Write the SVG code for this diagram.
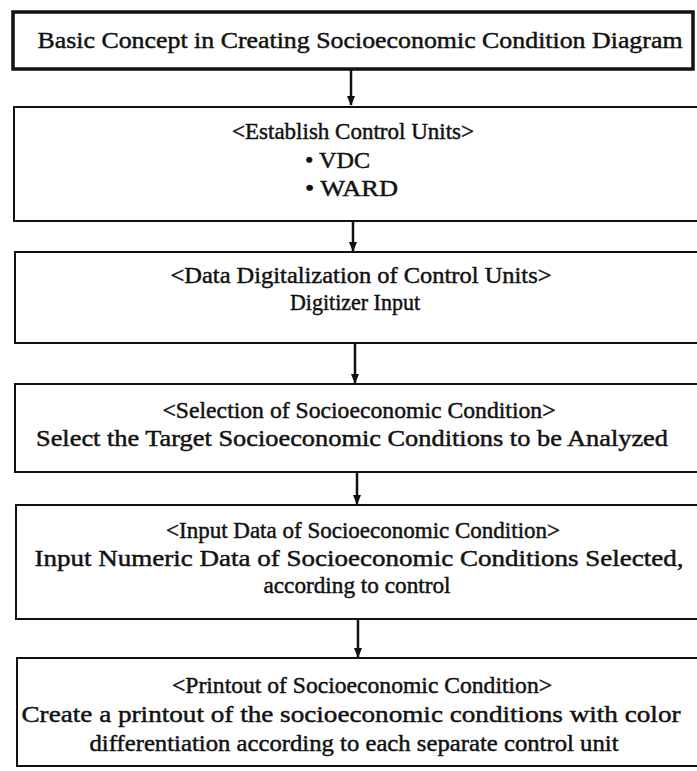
<svg xmlns="http://www.w3.org/2000/svg" width="697" height="771" viewBox="0 0 697 771">
  <style>
    .box { fill: #ffffff; stroke: #111111; stroke-width: 2; }
    .title { stroke-width: 3.5; }
    .txt { font-family: "Liberation Serif", "Times New Roman", serif; font-size: 23px; fill: #111111; stroke: #111111; stroke-width: 0.45; text-anchor: middle; }
    .left { text-anchor: start; }
    .conn { stroke: #111111; stroke-width: 2.5; fill: none; marker-end: url(#arrow); }
  </style>
  <defs>
    <marker id="arrow" viewBox="0 0 10 10" refX="9" refY="5" markerWidth="4" markerHeight="4" markerUnits="strokeWidth" orient="auto">
      <path d="M0,1 L10,5 L0,9 Z" fill="#111111"/>
    </marker>
  </defs>
  <rect width="697" height="771" fill="#ffffff"/>

  <g id="connectors">
    <line class="conn" x1="351" y1="69" x2="351" y2="105"/>
    <line class="conn" x1="353" y1="221" x2="353" y2="251"/>
    <line class="conn" x1="355" y1="343" x2="355" y2="383"/>
    <line class="conn" x1="357" y1="472" x2="357" y2="504"/>
    <line class="conn" x1="358" y1="619" x2="358" y2="657"/>
  </g>

  <g id="n1">
    <rect class="box title" x="13" y="12" width="680" height="57"/>
    <text class="txt" x="360" y="48" textLength="645" lengthAdjust="spacingAndGlyphs">Basic Concept in Creating Socioeconomic Condition Diagram</text>
  </g>

  <g id="n2">
    <rect class="box" x="14" y="107" width="700" height="114"/>
    <text class="txt" x="353" y="139" textLength="242" lengthAdjust="spacingAndGlyphs">&lt;Establish Control Units&gt;</text>
    <text class="txt left" x="305" y="168" textLength="65" lengthAdjust="spacingAndGlyphs">• VDC</text>
    <text class="txt left" x="305" y="196" textLength="93" lengthAdjust="spacingAndGlyphs">• WARD</text>
  </g>

  <g id="n3">
    <rect class="box" x="15" y="252" width="700" height="91"/>
    <text class="txt" x="361" y="283" textLength="381" lengthAdjust="spacingAndGlyphs">&lt;Data Digitalization of Control Units&gt;</text>
    <text class="txt" x="355" y="310" textLength="130" lengthAdjust="spacingAndGlyphs">Digitizer Input</text>
  </g>

  <g id="n4">
    <rect class="box" x="15" y="384" width="700" height="88"/>
    <text class="txt" x="359" y="418" textLength="393" lengthAdjust="spacingAndGlyphs">&lt;Selection of Socioeconomic Condition&gt;</text>
    <text class="txt" x="352" y="446" textLength="632" lengthAdjust="spacingAndGlyphs">Select the Target Socioeconomic Conditions to be Analyzed</text>
  </g>

  <g id="n5">
    <rect class="box" x="16" y="505" width="700" height="114"/>
    <text class="txt" x="363" y="538" textLength="394" lengthAdjust="spacingAndGlyphs">&lt;Input Data of Socioeconomic Condition&gt;</text>
    <text class="txt" x="359" y="566" textLength="649" lengthAdjust="spacingAndGlyphs">Input Numeric Data of Socioeconomic Conditions Selected,</text>
    <text class="txt" x="357" y="593" textLength="187" lengthAdjust="spacingAndGlyphs">according to control</text>
  </g>

  <g id="n6">
    <rect class="box" x="17" y="658" width="700" height="108"/>
    <text class="txt" x="362" y="693" textLength="380" lengthAdjust="spacingAndGlyphs">&lt;Printout of Socioeconomic Condition&gt;</text>
    <text class="txt" x="351" y="722" textLength="659" lengthAdjust="spacingAndGlyphs">Create a printout of the socioeconomic conditions with color</text>
    <text class="txt" x="354" y="751" textLength="529" lengthAdjust="spacingAndGlyphs">differentiation according to each separate control unit</text>
  </g>
</svg>
